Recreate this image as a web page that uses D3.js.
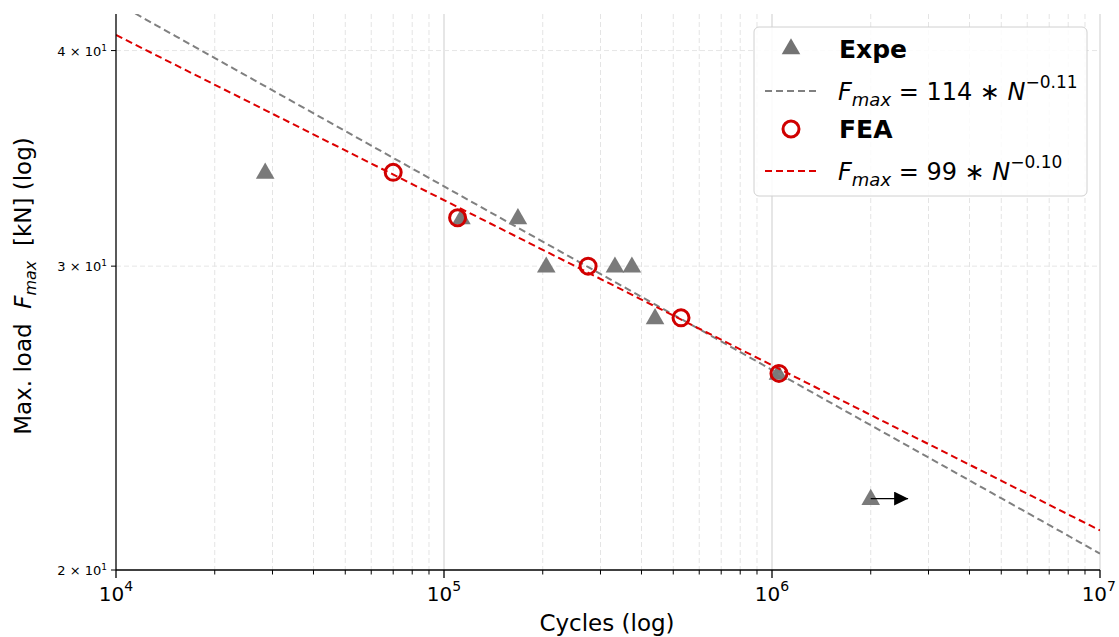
<!DOCTYPE html>
<html>
<head>
<meta charset="utf-8">
<script src="https://cdn.jsdelivr.net/npm/d3@7"></script>
<style>
  html, body { margin: 0; padding: 0; background: #fff; }
  svg { display: block; font-family: "DejaVu Sans", sans-serif; }
</style>
</head>
<body>
<svg id="chart" width="1119" height="637"></svg>
<script>
// Experimental fatigue results: cycles to failure and max load (kN)
const expeCycles = [28500, 113000, 168000, 205000, 332000, 374000, 440000, 1043000, 2000000];
const expeLoad   = [34, 32, 32, 30, 30, 30, 28, 26, 22];
const expeRunout = [false, false, false, false, false, false, false, false, true];

// Finite element predictions
const feaCycles = [70000, 110000, 275000, 528000, 1050000];
const feaLoad   = [34, 32, 30, 28, 26];

// Power-law fits F = a * N^(-b)
const expeFit = { a: 113.6, b: 0.1064 };
const feaFit  = { a: 98.6,  b: 0.0957 };

const xDomain = [1e4, 1e7];
const yDomain = [20, 42];
const yTickValues = [20, 30, 40];

const svg = d3.select("#chart");
const m = { left: 116, right: 1100, top: 14, bottom: 570 };

const x = d3.scaleLog().domain(xDomain).range([m.left, m.right]);
const y = d3.scaleLog().domain(yDomain).range([m.bottom, m.top]);

// minor decade ticks on x
const xMajor = [1e4, 1e5, 1e6, 1e7];
const xMinor = [];
for (let e = 4; e < 7; e++) for (let k = 2; k <= 9; k++) xMinor.push(k * Math.pow(10, e));

// grid
const grid = svg.append("g");
grid.selectAll("line.minor").data(xMinor).join("line")
  .attr("x1", d => x(d)).attr("x2", d => x(d))
  .attr("y1", m.top).attr("y2", m.bottom)
  .attr("stroke", "#e4e4e4").attr("stroke-width", 1).attr("stroke-dasharray", "5,3");
grid.selectAll("line.major").data(xMajor.slice(1)).join("line")
  .attr("x1", d => x(d)).attr("x2", d => x(d))
  .attr("y1", m.top).attr("y2", m.bottom)
  .attr("stroke", "#d6d6d6").attr("stroke-width", 1.2);
grid.selectAll("line.h").data(yTickValues.slice(1)).join("line")
  .attr("x1", m.left).attr("x2", m.right)
  .attr("y1", d => y(d)).attr("y2", d => y(d))
  .attr("stroke", "#e6e6e6").attr("stroke-width", 1).attr("stroke-dasharray", "5,3");

// clip to plotting area
svg.append("clipPath").attr("id", "plotclip").append("rect")
  .attr("x", m.left).attr("y", m.top)
  .attr("width", m.right - m.left).attr("height", m.bottom - m.top);
const plot = svg.append("g").attr("clip-path", "url(#plotclip)");

const fitLine = f => {
  const pts = d3.range(0, 101).map(i => Math.pow(10, 4 + 3 * i / 100));
  return d3.line().x(n => x(n)).y(n => y(f.a * Math.pow(n, -f.b)))(pts);
};

const tri = d3.symbol().type(d3.symbolTriangle).size(150);

// experimental points
plot.selectAll("path.expe").data(expeCycles).join("path")
  .attr("d", tri)
  .attr("transform", (d, i) => `translate(${x(d)},${y(expeLoad[i]) + 1})`)
  .attr("fill", "#737373").attr("opacity", 0.95);

// run-out arrow
svg.append("defs").append("marker")
  .attr("id", "ah").attr("viewBox", "0 0 10 10").attr("refX", 10).attr("refY", 5)
  .attr("markerWidth", 14).attr("markerHeight", 14).attr("markerUnits", "userSpaceOnUse")
  .attr("orient", "auto")
  .append("path").attr("d", "M0,0L10,5L0,10Z").attr("fill", "#000");
expeCycles.forEach((c, i) => {
  if (!expeRunout[i]) return;
  plot.append("line")
    .attr("x1", x(c)).attr("x2", x(c * 1.3))
    .attr("y1", y(expeLoad[i])).attr("y2", y(expeLoad[i]))
    .attr("stroke", "#000").attr("stroke-width", 1.3)
    .attr("marker-end", "url(#ah)");
});

// experimental fit
plot.append("path").attr("d", fitLine(expeFit))
  .attr("fill", "none").attr("stroke", "#808080").attr("stroke-width", 2)
  .attr("stroke-dasharray", "7,4");

// FEA points
plot.selectAll("circle.fea").data(feaCycles).join("circle")
  .attr("cx", d => x(d)).attr("cy", (d, i) => y(feaLoad[i]))
  .attr("r", 8).attr("fill", "none").attr("stroke", "#d00000").attr("stroke-width", 3);

// FEA fit
plot.append("path").attr("d", fitLine(feaFit))
  .attr("fill", "none").attr("stroke", "#dd0000").attr("stroke-width", 2)
  .attr("stroke-dasharray", "7,4");

// axes spines
svg.append("line").attr("x1", m.left).attr("x2", m.left).attr("y1", m.top).attr("y2", m.bottom)
  .attr("stroke", "#000").attr("stroke-width", 1.3);
svg.append("line").attr("x1", m.left).attr("x2", m.right).attr("y1", m.bottom).attr("y2", m.bottom)
  .attr("stroke", "#000").attr("stroke-width", 1.3);

// x ticks
const xa = svg.append("g");
xa.selectAll("line.mj").data(xMajor).join("line")
  .attr("x1", d => x(d)).attr("x2", d => x(d))
  .attr("y1", m.bottom).attr("y2", m.bottom + 8)
  .attr("stroke", "#000").attr("stroke-width", 1.3);
xa.selectAll("line.mn").data(xMinor).join("line")
  .attr("x1", d => x(d)).attr("x2", d => x(d))
  .attr("y1", m.bottom).attr("y2", m.bottom + 4.5)
  .attr("stroke", "#000").attr("stroke-width", 1);
const xl = xa.selectAll("text").data(xMajor).join("text")
  .attr("x", (d, i) => i === xMajor.length - 1 ? 1116 : x(d))
  .attr("y", m.bottom + 31)
  .attr("text-anchor", (d, i) => i === xMajor.length - 1 ? "end" : "middle")
  .attr("font-size", 20).attr("fill", "#000");
xl.append("tspan").text("10");
xl.append("tspan").attr("dy", -10).attr("font-size", 14).text(d => Math.round(Math.log10(d)));

// y ticks
const ya = svg.append("g");
ya.selectAll("line").data(yTickValues).join("line")
  .attr("x1", m.left - 5).attr("x2", m.left)
  .attr("y1", d => y(d)).attr("y2", d => y(d))
  .attr("stroke", "#000").attr("stroke-width", 1);
const yl = ya.selectAll("text").data(yTickValues).join("text")
  .attr("x", m.left - 9).attr("y", d => y(d) + 5)
  .attr("text-anchor", "end").attr("font-size", 13).attr("fill", "#000");
yl.append("tspan").text(d => `${d / 10} \u00d7 10`);
yl.append("tspan").attr("dy", -5).attr("font-size", 9).text("1");

// axis titles
svg.append("text").attr("x", (m.left + m.right) / 2 - 1).attr("y", 631)
  .attr("text-anchor", "middle").attr("font-size", 23).text("Cycles (log)");

const yt = svg.append("text").attr("transform", "translate(31,286) rotate(-90)")
  .attr("text-anchor", "middle").attr("font-size", 23);
yt.append("tspan").text("Max. load\u00a0\u00a0");
yt.append("tspan").attr("font-style", "italic").text("F");
yt.append("tspan").attr("font-style", "italic").attr("font-size", 16).attr("dy", 5).text("max");
yt.append("tspan").attr("dy", -5).text("\u00a0\u00a0[kN] (log)");

// legend
const lg = svg.append("g").attr("transform", "translate(754,27)");
lg.append("rect").attr("width", 333).attr("height", 169).attr("rx", 5)
  .attr("fill", "#fff").attr("fill-opacity", 0.85)
  .attr("stroke", "#d0d0d0").attr("stroke-width", 1);

const eq = (g, fit, yy) => {
  const t = g.append("text").attr("x", 84).attr("y", yy).attr("font-size", 24);
  t.append("tspan").attr("font-style", "italic").text("F");
  t.append("tspan").attr("font-style", "italic").attr("font-size", 18).attr("dy", 6).text("max");
  t.append("tspan").attr("dy", -6).text(` = ${fit.a.toFixed(0)} \u2217 `);
  t.append("tspan").attr("font-style", "italic").text("N");
  t.append("tspan").attr("dy", -12).attr("font-size", 17).text(`\u2212${fit.b.toFixed(2)}`);
};

lg.append("path").attr("d", tri).attr("transform", "translate(37,22)").attr("fill", "#737373");
lg.append("text").attr("x", 85).attr("y", 31).attr("font-size", 25).attr("font-weight", "bold").text("Expe");
lg.append("line").attr("x1", 11).attr("x2", 64).attr("y1", 64).attr("y2", 64)
  .attr("stroke", "#808080").attr("stroke-width", 2).attr("stroke-dasharray", "7,4");
eq(lg, expeFit, 73);
lg.append("circle").attr("cx", 37).attr("cy", 102).attr("r", 8)
  .attr("fill", "none").attr("stroke", "#d00000").attr("stroke-width", 3);
lg.append("text").attr("x", 85).attr("y", 111).attr("font-size", 25).attr("font-weight", "bold").text("FEA");
lg.append("line").attr("x1", 11).attr("x2", 64).attr("y1", 144).attr("y2", 144)
  .attr("stroke", "#dd0000").attr("stroke-width", 2).attr("stroke-dasharray", "7,4");
eq(lg, feaFit, 153);
</script>
</body>
</html>
